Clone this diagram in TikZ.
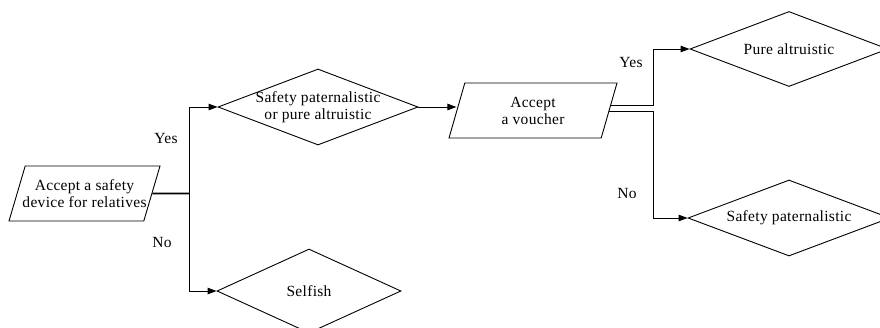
\documentclass[tikz,border=0pt]{standalone}
\usepackage{fontspec}
\setmainfont{Liberation Serif}[LetterSpace=2]
\usetikzlibrary{shapes.geometric,arrows.meta}

\begin{document}
\begin{tikzpicture}[x=1pt,y=-1pt,line width=0.9pt,
        font=\fontsize{15.5}{17}\selectfont,
        choicebox/.style={draw, diamond, shape aspect=2.6, inner sep=-5pt, align=center},
        actbox/.style={draw, trapezium, trapezium left angle=60, trapezium right angle=120,
            trapezium stretches body=true, inner ysep=0pt, inner xsep=-8pt,
            minimum height=55pt, align=center},
        link/.style={-{Triangle[length=9pt,width=6.5pt]}},
        answer/.style={inner sep=0pt}]
    \useasboundingbox (0,0) rectangle (880,327);

    % --------
    % First question
    % --------
    \node[actbox, minimum width=151pt] at (84.5,193.5) (safety) {Accept a safety\\device for relatives};

    \node[choicebox, minimum width=200pt, minimum height=76pt] at (318,107) (choice) {Safety paternalistic\\or pure altruistic};
    \node[choicebox, minimum width=184pt, minimum height=84pt] at (309,291) (selfish) {Selfish};

    \coordinate (split1) at (189,193.5);

    \node[answer] at (166,138) (yes1) {Yes};
    \node[answer] at (162,242) (no1) {No};

    % Draw line
    \draw[line width=1.6pt] (safety.east) -- (split1);
    \draw[link] (split1) |- (choice.west);
    \draw[link] (split1) |- (selfish.west);

    % --------
    % Second question
    % --------
    \node[actbox, minimum width=168pt] at (533,110.5) (voucher) {Accept\\a voucher};

    \node[choicebox, minimum width=198pt, minimum height=75pt] at (789,49) (pure) {Pure altruistic};
    \node[choicebox, minimum width=202pt, minimum height=76pt] at (789,218) (paternal) {Safety paternalistic};

    \coordinate (split2) at (653,0);

    \node[answer] at (631,62) (yes2) {Yes};
    \node[answer] at (627,193) (no2) {No};

    % Draw line
    \draw[link] (choice.east) -- (choice.east -| voucher.west);
    \draw[link] (voucher.4) -- (voucher.4 -| split2) |- (pure.west);
    \draw[link] (voucher.-1) -- (voucher.-1 -| split2) |- (paternal.west);
\end{tikzpicture}
\end{document}
